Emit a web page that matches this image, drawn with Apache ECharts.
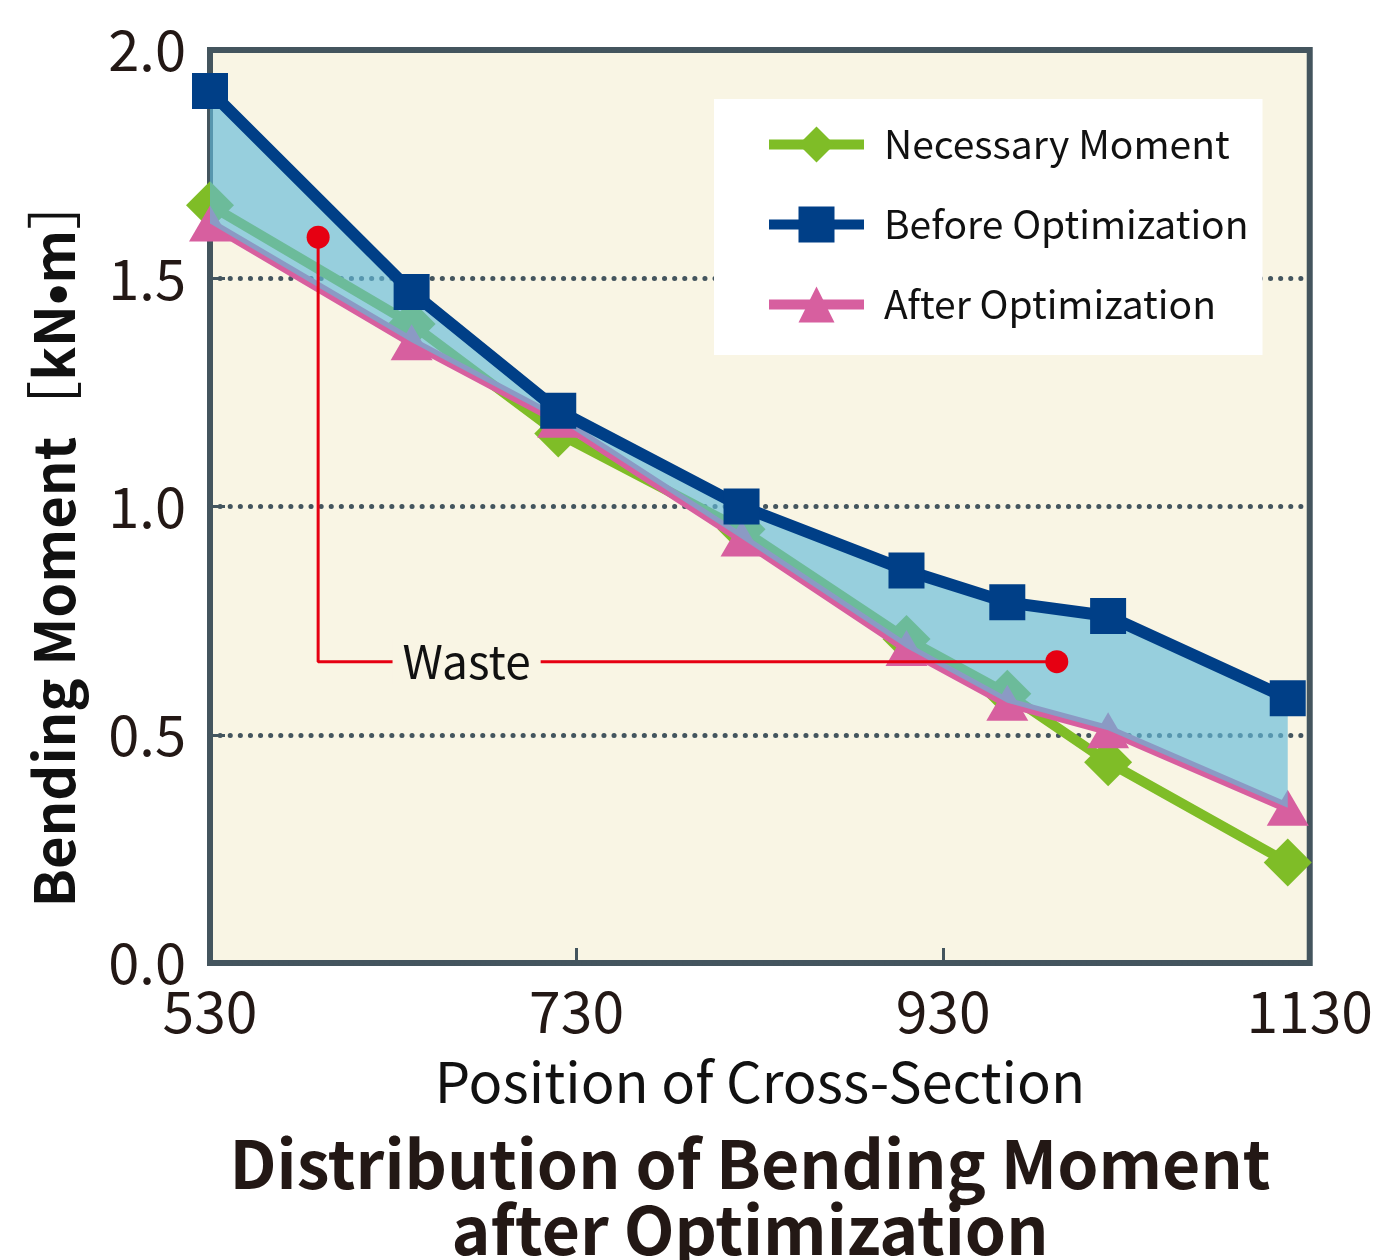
<!DOCTYPE html>
<html>
<head>
<meta charset="utf-8">
<script src="https://cdn.jsdelivr.net/npm/echarts@6/dist/echarts.min.js"></script>
<style>
  html, body { margin: 0; padding: 0; background: #fff; }
  #chart { width: 1376px; height: 1260px; }
</style>
</head>
<body>
<div id="chart"></div>
<script>
// positions of the cross-sections
const positions = [530, 640, 720, 820, 910, 965, 1020, 1118]
const necessaryMoment = [1.66, 1.40, 1.16, 0.95, 0.71, 0.59, 0.44, 0.22]
const beforeOpt = [1.91, 1.47, 1.21, 1.00, 0.86, 0.79, 0.76, 0.58]
const afterOpt = [1.62, 1.36, 1.19, 0.93, 0.69, 0.57, 0.51, 0.34]
const xTicks = [530, 730, 930, 1130]
const yTicks = [0.0, 0.5, 1.0, 1.5, 2.0]
// "Waste" leader line: start dot, corner, end dot
const wasteX = [589, 589, 992]
const wasteY = [1.59, 0.66, 0.66]
const wasteLabelPos = [670, 0.66]

const FONT = '"Noto Sans CJK JP", "Noto Sans", sans-serif'
const BORDER = '#44555e'
const CREAM = '#f9f5e4'

const pairs = (xs, ys) => xs.map((x, i) => [x, ys[i]])

// band between before / after optimization (the "waste")
function renderWaste(params, api) {
  const upper = positions.map((x, i) => api.coord([x, beforeOpt[i]]))
  const lower = positions.map((x, i) => api.coord([x, afterOpt[i]])).reverse()
  return {
    type: 'polygon',
    shape: { points: upper.concat(lower) },
    style: { fill: 'rgba(98,186,216,0.65)' }
  }
}

const chart = echarts.init(document.getElementById('chart'))
const option = {
  animation: false,
  textStyle: { fontFamily: FONT },
  title: {
    text: 'Distribution of Bending Moment\nafter Optimization',
    left: 745,
    textAlign: 'center',
    top: 1126,
    textStyle: { fontFamily: FONT, fontSize: 66, fontWeight: 'bold', color: '#231815', lineHeight: 66 }
  },
  legend: {
    orient: 'vertical',
    left: 714,
    top: 99,
    backgroundColor: '#fff',
    padding: [26, 14, 31, 50],
    itemWidth: 95,
    itemHeight: 45,
    itemGap: 41,
    lineStyle: { width: 10 },
    textStyle: { fontFamily: FONT, fontSize: 39, color: '#111', padding: [0, 0, 0, 15] },
    data: ['Necessary Moment', 'Before Optimization', 'After Optimization']
  },
  grid: {
    left: 210, right: 66, top: 50, bottom: 297,
    show: true, backgroundColor: CREAM, borderColor: BORDER, borderWidth: 6
  },
  xAxis: {
    type: 'value',
    min: xTicks[0], max: xTicks[xTicks.length - 1], interval: 200,
    name: 'Position of Cross-Section',
    nameLocation: 'middle',
    nameGap: 91,
    nameTextStyle: { fontFamily: FONT, fontSize: 56, color: '#111' },
    axisLine: { show: false },
    axisTick: { show: true, inside: true, length: 15, lineStyle: { color: BORDER, width: 3 } },
    axisLabel: { fontFamily: FONT, fontSize: 57, color: '#231815', margin: 20, formatter: v => String(v) },
    splitLine: { show: false }
  },
  yAxis: {
    type: 'value',
    min: yTicks[0], max: yTicks[yTicks.length - 1], interval: 0.5,
    name: '{b|Bending Moment}{r|［}{b|kN•m}{e|］}',
    nameLocation: 'middle',
    nameGap: 128,
    nameTextStyle: {
      rich: {
        b: { fontFamily: FONT, fontSize: 56, fontWeight: 'bold', color: '#111' },
        r: { fontFamily: FONT, fontSize: 56, fontWeight: 'normal', color: '#111' },
        e: { fontFamily: FONT, fontSize: 56, fontWeight: 'normal', color: '#111', padding: [0, 68, 0, 0] }
      }
    },
    axisLine: { show: false },
    axisTick: { show: true, inside: true, length: 15, lineStyle: { color: BORDER, width: 3 } },
    axisLabel: { fontFamily: FONT, fontSize: 56, color: '#231815', margin: 24, formatter: v => v.toFixed(1) },
    splitLine: { show: true, lineStyle: { color: BORDER, width: 5, type: [0.1, 10], cap: 'round' } }
  },
  series: [
    {
      name: 'Necessary Moment', type: 'line', z: 2,
      data: pairs(positions, necessaryMoment),
      symbol: 'diamond', symbolSize: [48, 48],
      lineStyle: { color: '#7fbd27', width: 10 },
      itemStyle: { color: '#7fbd27' }
    },
    {
      name: 'After Optimization', type: 'line', z: 3,
      data: pairs(positions, afterOpt),
      symbol: 'triangle', symbolSize: [42, 36],
      lineStyle: { color: '#d75f9f', width: 10 },
      itemStyle: { color: '#d75f9f' }
    },
    {
      name: 'waste', type: 'custom', z: 4, silent: true,
      renderItem: renderWaste,
      data: [0]
    },
    {
      name: 'Before Optimization', type: 'line', z: 5,
      data: pairs(positions, beforeOpt),
      symbol: 'rect', symbolSize: [36, 36],
      lineStyle: { color: '#003f87', width: 12 },
      itemStyle: { color: '#003f87' }
    },
    {
      name: 'wasteLine', type: 'line', z: 6, silent: true,
      data: pairs(wasteX, wasteY),
      symbol: 'circle',
      symbolSize: (v, p) => (p.dataIndex === 1 ? 0 : 23),
      lineStyle: { color: '#e60012', width: 3 },
      itemStyle: { color: '#e60012' }
    },
    {
      name: 'wasteLabel', type: 'scatter', z: 7, silent: true,
      data: [wasteLabelPos],
      symbolSize: 0,
      itemStyle: { opacity: 1 },
      label: {
        show: true, position: 'inside', formatter: 'Waste',
        fontFamily: FONT, fontSize: 46, color: '#111',
        backgroundColor: CREAM, padding: [0, 10]
      }
    }
  ]
}
chart.setOption(option)
</script>
</body>
</html>
